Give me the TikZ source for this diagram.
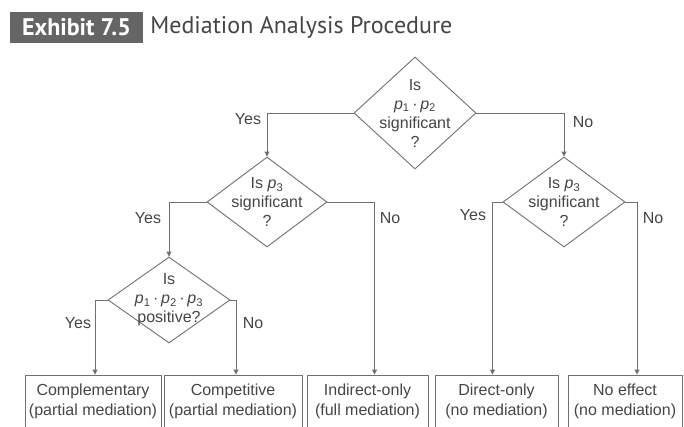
\documentclass[tikz,border=0pt]{standalone}
\usepackage{fontspec}
\setmainfont{Liberation Sans}
\newfontfamily\headfont{PT Sans}
\usetikzlibrary{arrows.meta}
\usetikzlibrary{positioning}
\usetikzlibrary{shapes.geometric}
\definecolor{linegray}{HTML}{707070}
\definecolor{textgray}{HTML}{454545}
\definecolor{tabgray}{HTML}{656565}
\newcommand*{\pth}[1]{\textit{p}\textsubscript{#1}}
\tikzset{
    flow/.style = {draw=linegray,line width=0.9pt,-{Triangle[length=5pt,width=5pt]}},
    decision/.style = {shape=diamond,draw=linegray,line width=0.9pt,inner sep=0,minimum width=122,minimum height=90},
    question/.style = {align=center,text=textgray,font=\fontsize{16}{19}\selectfont,inner sep=0},
    outcome/.style = {draw=linegray,line width=0.9pt,minimum height=52,inner sep=0,align=center,
        text=textgray,font=\fontsize{16}{20}\selectfont},
    answer/.style = {text=textgray,font=\fontsize{16}{19}\selectfont,inner sep=0}
}
\begin{document}
\begin{tikzpicture}[x=1pt,y=-1pt]
    \useasboundingbox (0,0) rectangle (684,426);
    % Heading
    \node[fill=tabgray,text=white,minimum width=133,minimum height=31,inner sep=0,
        font=\headfont\bfseries\fontsize{24}{26}\selectfont] (tab) at (76.5,27.5) {Exhibit 7.5};
    \node[right=7pt of tab,inner sep=0,text=textgray,
        font=\headfont\fontsize{24}{26}\selectfont] (heading) {Mediation Analysis Procedure};
    % Questions
    \node[decision,minimum height=112] (q1) at (415,113) {};
    \node[decision,minimum width=120] (q2) at (267,202) {};
    \node[decision,minimum width=122] (q3) at (564,202) {};
    \node[decision,minimum height=86] (q4) at (169,300) {};
    \node[question] (t1) at (q1) {Is\\\pth{1}\,·\,\pth{2}\\significant\\?};
    \node[question] (t2) at (q2) {Is \pth{3}\\significant\\?};
    \node[question] (t3) at (q3) {Is \pth{3}\\significant\\?};
    \node[question] (t4) at (q4) {Is\\\pth{1}\,·\,\pth{2}\,·\,\pth{3}\\positive?};
    % Outcomes
    \node[outcome,minimum width=136] (b1) at (93,401) {Complementary\\(partial mediation)};
    \node[outcome,minimum width=138] (b2) at (233,401) {Competitive\\(partial mediation)};
    \node[outcome,minimum width=121] (b3) at (367.5,401) {Indirect-only\\(full mediation)};
    \node[outcome,minimum width=123] (b4) at (496.5,401) {Direct-only\\(no mediation)};
    \node[outcome,minimum width=114] (b5) at (625,401) {No effect\\(no mediation)};
    % Connectors
    \foreach \src/\dest in {q1.west/q2.north,q1.east/q3.north,q2.west/q4.north}
        \draw[flow] (\src) -| (\dest);
    \foreach \src/\dest/\dx in {q2.east/b3/7,q3.west/b4/-4,q3.east/b5/12,q4.west/b1/2,q4.east/b2/3}
        \draw[flow] (\src) -| ([xshift=\dx]\dest.north);
    % Answers
    \node[answer] (y1) at (248,119) {Yes};
    \node[answer] (n1) at (583,122) {No};
    \node[answer] (y2) at (148,218) {Yes};
    \node[answer] (n2) at (390,218) {No};
    \node[answer] (y3) at (473,215) {Yes};
    \node[answer] (n3) at (653,218) {No};
    \node[answer] (y4) at (78,323) {Yes};
    \node[answer] (n4) at (253,323) {No};
\end{tikzpicture}
\end{document}
